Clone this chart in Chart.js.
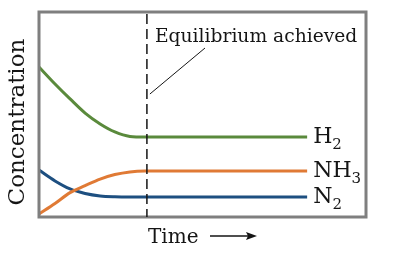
<!DOCTYPE html>
<html>
<head>
<meta charset="utf-8">
<script src="https://cdn.jsdelivr.net/npm/chart.js@4"></script>
<style>
  html, body { margin: 0; padding: 0; background: #fff; }
  #wrap { width: 400px; height: 260px; }
</style>
</head>
<body>
<div id="wrap"><canvas id="eqChart"></canvas></div>
<script>
// time axis (arbitrary units 0-100), concentrations (arbitrary units 0-100)
const times = [0, 4.9, 9.5, 14.1, 18.7, 23.2, 27.8, 32.4, 82.0];
const h2 = [73.2, 64.9, 57.6, 50.7, 45.4, 41.5, 39.3, 39.0, 39.0];
const nh3 = [1.5, 6.6, 11.9, 15.3, 18.5, 20.7, 22.0, 22.4, 22.4];
const n2 = [22.9, 17.6, 13.7, 11.5, 10.3, 9.9, 9.8, 9.8, 9.8];
const species = [['H', '2'], ['NH', '3'], ['N', '2']];
const equilibriumTime = 33.0;
const equilibriumLabel = 'Equilibrium achieved';
const yTitle = 'Concentration';
const xTitle = 'Time';

const serif = '"DejaVu Serif", serif';
const pts = ys => times.map((t, i) => ({ x: t, y: ys[i] }));

const extras = {
  id: 'extras',
  afterDatasetsDraw(chart) {
    const { ctx, chartArea: a, scales: { x } } = chart;
    ctx.save();

    // frame
    ctx.strokeStyle = '#7f7f7f';
    ctx.lineWidth = 3;
    ctx.strokeRect(a.left, a.top, a.right - a.left, a.bottom - a.top);

    // equilibrium dashed line
    const ex = x.getPixelForValue(equilibriumTime);
    ctx.strokeStyle = '#151515';
    ctx.lineWidth = 1.5;
    ctx.setLineDash([10, 5]);
    ctx.beginPath();
    ctx.moveTo(ex, a.top + 2);
    ctx.lineTo(ex, a.bottom);
    ctx.stroke();
    ctx.setLineDash([]);

    // leader line + annotation
    ctx.lineWidth = 1;
    ctx.beginPath();
    ctx.moveTo(ex + 3, 94);
    ctx.lineTo(205, 48);
    ctx.stroke();
    ctx.fillStyle = '#151515';
    ctx.font = '18.7px ' + serif;
    ctx.textBaseline = 'alphabetic';
    ctx.fillText(equilibriumLabel, ex + 8, 42);

    // species labels at line ends
    chart.data.datasets.forEach((ds, i) => {
      const meta = chart.getDatasetMeta(i);
      const last = meta.data[meta.data.length - 1];
      const [main, sub] = species[i];
      ctx.font = '22px ' + serif;
      ctx.textBaseline = 'middle';
      const tx = last.x + 6;
      ctx.fillText(main, tx, last.y);
      const w = ctx.measureText(main).width;
      ctx.font = '15px ' + serif;
      ctx.fillText(sub, tx + w, last.y + 8);
    });

    // y title
    ctx.save();
    ctx.translate(18, 122);
    ctx.rotate(-Math.PI / 2);
    ctx.font = '23px ' + serif;
    ctx.textAlign = 'center';
    ctx.textBaseline = 'middle';
    ctx.fillText(yTitle, 0, 0);
    ctx.restore();

    // x title with arrow
    ctx.font = '20px ' + serif;
    ctx.textAlign = 'left';
    ctx.textBaseline = 'alphabetic';
    ctx.fillText(xTitle, 148, 243);
    ctx.lineWidth = 1.3;
    ctx.beginPath();
    ctx.moveTo(210, 236);
    ctx.lineTo(250, 236);
    ctx.stroke();
    ctx.beginPath();
    ctx.moveTo(257, 236);
    ctx.lineTo(246, 232);
    ctx.lineTo(248, 236);
    ctx.lineTo(246, 240);
    ctx.closePath();
    ctx.fill();

    ctx.restore();
  }
};

const lineDs = (label, data, color) => ({
  label,
  data: pts(data),
  borderColor: color,
  borderWidth: 3,
  pointRadius: 0,
  fill: false,
  cubicInterpolationMode: 'monotone',
  clip: false
});

new Chart(document.getElementById('eqChart'), {
  type: 'line',
  data: {
    datasets: [
      lineDs('H2', h2, '#5a8a3c'),
      lineDs('NH3', nh3, '#e07a35'),
      lineDs('N2', n2, '#1d4f80')
    ]
  },
  options: {
    responsive: true,
    maintainAspectRatio: false,
    animation: false,
    layout: { padding: { left: 39, right: 34, top: 12, bottom: 43 } },
    plugins: { legend: { display: false }, tooltip: { enabled: false } },
    scales: {
      x: { type: 'linear', min: 0, max: 100, display: false },
      y: { min: 0, max: 100, display: false }
    }
  },
  plugins: [extras]
});
</script>
</body>
</html>
